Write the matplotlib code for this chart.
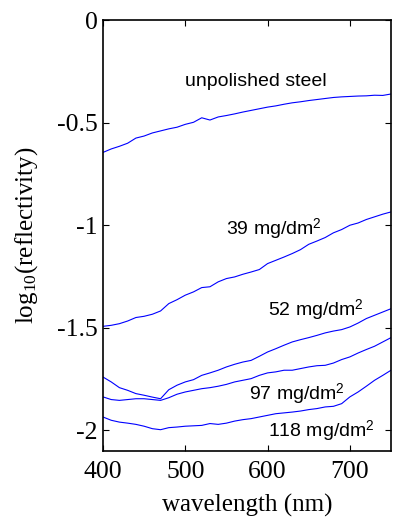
import matplotlib
matplotlib.use("Agg")
import matplotlib.pyplot as plt

plt.rcParams['mathtext.fontset'] = 'custom'
plt.rcParams['mathtext.rm'] = 'Liberation Serif'
plt.rcParams['mathtext.sf'] = 'Liberation Sans'
plt.rcParams['mathtext.default'] = 'rm'

wavelength = [400, 410, 420, 430, 440, 450, 460, 470, 480, 490,
              500, 510, 520, 530, 540, 550, 560, 570, 580, 590,
              600, 610, 620, 630, 640, 650, 660, 670, 680, 690,
              700, 710, 720, 730, 740, 750]

unpolished = [-0.645, -0.628, -0.615, -0.600, -0.575, -0.565, -0.550, -0.540, -0.530, -0.522,
              -0.508, -0.498, -0.476, -0.487, -0.472, -0.465, -0.457, -0.448, -0.440, -0.432,
              -0.424, -0.418, -0.410, -0.403, -0.398, -0.392, -0.387, -0.382, -0.377, -0.374,
              -0.372, -0.370, -0.369, -0.366, -0.367, -0.360]

mg39 = [-1.493, -1.488, -1.480, -1.467, -1.450, -1.444, -1.434, -1.418, -1.382, -1.363,
        -1.341, -1.325, -1.304, -1.300, -1.276, -1.260, -1.252, -1.239, -1.228, -1.216,
        -1.187, -1.171, -1.155, -1.138, -1.119, -1.093, -1.077, -1.060, -1.037, -1.021,
        -1.000, -0.989, -0.972, -0.959, -0.946, -0.935]

mg52 = [-1.740, -1.764, -1.792, -1.805, -1.821, -1.829, -1.838, -1.846, -1.802, -1.780,
        -1.764, -1.753, -1.732, -1.720, -1.707, -1.691, -1.678, -1.667, -1.659, -1.639,
        -1.618, -1.602, -1.585, -1.569, -1.558, -1.548, -1.537, -1.525, -1.516, -1.509,
        -1.496, -1.477, -1.455, -1.439, -1.423, -1.407]

mg97 = [-1.837, -1.850, -1.854, -1.850, -1.846, -1.846, -1.850, -1.854, -1.841, -1.824,
        -1.813, -1.805, -1.797, -1.792, -1.785, -1.776, -1.764, -1.756, -1.748, -1.732,
        -1.720, -1.715, -1.707, -1.707, -1.699, -1.691, -1.685, -1.683, -1.672, -1.655,
        -1.642, -1.623, -1.606, -1.590, -1.569, -1.548]

mg118 = [-1.935, -1.951, -1.960, -1.965, -1.971, -1.980, -1.992, -1.997, -1.987, -1.984,
         -1.980, -1.978, -1.976, -1.967, -1.971, -1.965, -1.955, -1.948, -1.943, -1.935,
         -1.927, -1.919, -1.915, -1.911, -1.906, -1.899, -1.894, -1.886, -1.883, -1.870,
         -1.837, -1.813, -1.785, -1.756, -1.732, -1.707]

labels = ['unpolished steel', '39 mg/dm$^{\\mathsf{2}}$', '52 mg/dm$^{\\mathsf{2}}$',
          '97 mg/dm$^{\\mathsf{2}}$', '118 mg/dm$^{\\mathsf{2}}$']
label_x = [500, 550, 600, 577, 601]
label_y = [-0.322, -1.049, -1.444, -1.854, -2.033]

fig = plt.figure(figsize=(3.93, 5.17), dpi=100)
ax = fig.add_axes([0.262, 0.128, 0.733, 0.833])

for series in [unpolished, mg39, mg52, mg97, mg118]:
    ax.plot(wavelength, series, color='#0000ff', linewidth=0.8)

for txt, tx, ty in zip(labels, label_x, label_y):
    ax.text(tx, ty, txt, fontsize=14, fontfamily='Liberation Sans',
            ha='left', va='baseline')

ax.set_xlim(400, 750)
ax.set_ylim(-2.1, 0)
ax.set_xticks([400, 500, 600, 700])
ax.set_yticks([-2, -1.5, -1, -0.5, 0])
ax.set_yticklabels(['-2', '-1.5', '-1', '-0.5', '0'])
ax.tick_params(direction='in', length=4, width=0.8, top=True, right=True,
               labelsize=18.5, labelfontfamily='Liberation Serif')
ax.tick_params(axis='x', pad=7)
ax.tick_params(axis='y', pad=4)
for sp in ax.spines.values():
    sp.set_linewidth(1.2)

ax.set_xlabel('wavelength (nm)', fontsize=18, fontfamily='Liberation Serif', labelpad=8)
ax.set_ylabel('log$_{10}$(reflectivity)', fontsize=18, fontfamily='Liberation Serif', labelpad=12)

fig.savefig('out.png', dpi=100)
